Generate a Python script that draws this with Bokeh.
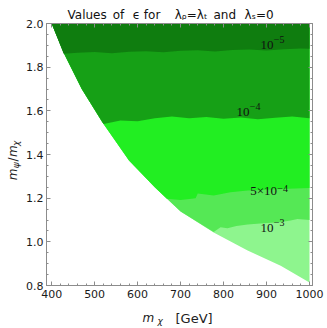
import numpy as np
from bokeh.plotting import figure
from bokeh.layouts import column, row
from bokeh.models import Range1d, FixedTicker, LinearAxis, Label
from bokeh.embed import file_html
from bokeh.resources import INLINE

# ---------------- data ----------------
# lower edge of the allowed region (white below)
bnd_x = [400, 429, 470, 518, 580, 640, 700, 777, 856, 933, 1000]
bnd_y = [2.0, 1.861, 1.70, 1.548, 1.372, 1.25, 1.139, 1.043, 0.960, 0.891, 0.814]

# contour eps = 1e-5
c1_x = [428, 460, 500, 540, 580, 620, 660, 700, 740, 780, 820, 860, 900, 940, 980, 1000]
c1_y = [1.862, 1.866, 1.869, 1.864, 1.871, 1.873, 1.868, 1.875, 1.877, 1.872, 1.879, 1.881, 1.876, 1.882, 1.885, 1.884]
# contour eps = 1e-4
c2_x = [521, 560, 600, 640, 680, 720, 760, 800, 840, 880, 920, 960, 1000]
c2_y = [1.540, 1.556, 1.552, 1.566, 1.574, 1.566, 1.572, 1.564, 1.570, 1.562, 1.568, 1.574, 1.566]
# contour eps = 5e-4
c3_x = [668, 700, 735, 740, 777, 816, 856, 902, 950, 1000]
c3_y = [1.197, 1.192, 1.200, 1.221, 1.212, 1.227, 1.235, 1.238, 1.243, 1.246]
# contour eps = 1e-3
c4_x = [777, 793, 809, 830, 856, 893, 930, 956, 972, 1000]
c4_y = [1.045, 1.067, 1.062, 1.072, 1.079, 1.085, 1.090, 1.098, 1.105, 1.100]

band_colors = ["#8ef58e", "#55e855", "#22ee22", "#16a016", "#0f7d0f"]

x_ticks = [400, 500, 600, 700, 800, 900, 1000]
x_labels = ["400", "500", "600", "700", "800", "900", "1000"]
y_ticks = [0.8, 1.0, 1.2, 1.4, 1.6, 1.8, 2.0]
y_labels = ["0.8", "1.0", "1.2", "1.4", "1.6", "1.8", "2.0"]

# contour labels: (main text, sup text, x, y, sup x)
clabels = [
    ("10", "\u22125", 886, 1.882, 917),
    ("10", "\u22124", 830, 1.578, 861),
    ("5\u00d710", "\u22124", 862, 1.199, 925),
    ("10", "\u22123", 886, 1.046, 917),
]

title_text = ("Values\u2002of\u2002\u2009\u03f5 for\u2003\u2009"
              "\u03bb\u1d68=\u03bb\u209c\u2002and\u2002\u2009\u03bb\u209b=0")

# ---------------- layout sizes (page pixels) ----------------
W, H = 327, 328
BOT_H = 24          # x label strip
LEFT_W = 22         # y label strip
MID_H = H - BOT_H
# main frame in page pixels: x 46..312, y 23..285

X0, X1 = 388, 1007
Y0, Y1 = 0.8, 2.0
p = figure(width=W - LEFT_W, height=MID_H, output_backend="svg", toolbar_location=None,
           x_range=Range1d(X0, X1), y_range=Range1d(Y0, Y1),
           min_border_left=46 - LEFT_W, min_border_right=W - 312,
           min_border_top=23, min_border_bottom=MID_H - 285)
p.background_fill_color = "white"
p.border_fill_color = "white"
p.outline_line_color = "#8c8c8c"
p.grid.visible = False

p.title.text = title_text
p.title.text_font = "DejaVu Sans"
p.title.text_font_size = "12px"
p.title.text_font_style = "normal"
p.title.text_color = "#111111"
p.title.align = "left"
p.title.offset = 21
p.title.standoff = 4

# bands
top_y = bnd_y[0]
right_x = bnd_x[-1]
p.patch(bnd_x + [right_x], bnd_y + [top_y], fill_color=band_colors[0], line_color=None)
for col, (cx, cy) in zip(band_colors[1:], [(c4_x, c4_y), (c3_x, c3_y), (c2_x, c2_y), (c1_x, c1_y)]):
    sx = [bx for bx in bnd_x if bx < cx[0]]
    sy = bnd_y[:len(sx)]
    p.patch(sx + cx + [right_x], sy + cy + [top_y], fill_color=col, line_color=None)

# axes
xt = FixedTicker(ticks=x_ticks, minor_ticks=list(np.arange(400, 1001, 20)))
yt = FixedTicker(ticks=y_ticks, minor_ticks=list(np.round(np.arange(0.8, 2.001, 0.05), 3)))

def style(ax, labels=True):
    ax.axis_line_color = "#8c8c8c"
    ax.major_tick_line_color = "#8c8c8c"
    ax.minor_tick_line_color = "#8c8c8c"
    ax.major_tick_in = 4
    ax.major_tick_out = 0
    ax.minor_tick_in = 2
    ax.minor_tick_out = 0
    if labels:
        ax.major_label_text_font = "DejaVu Sans"
        ax.major_label_text_font_size = "11px"
        ax.major_label_text_color = "#1a1a1a"
    else:
        ax.major_label_text_font_size = "0px"
        ax.major_label_standoff = 0

xa = p.xaxis[0]
xa.ticker = xt
xa.major_label_overrides = dict(zip(x_ticks, x_labels))
xa.major_label_standoff = 4
style(xa)
ya = p.yaxis[0]
ya.ticker = yt
ya.major_label_overrides = dict(zip(y_ticks, y_labels))
ya.major_label_standoff = 3
style(ya)

ta = LinearAxis(ticker=xt)
style(ta, labels=False)
ta.major_label_overrides = {t: "" for t in x_ticks}
p.add_layout(ta, "above")
ra = LinearAxis(ticker=yt)
style(ra, labels=False)
ra.major_label_overrides = {t: "" for t in y_ticks}
p.add_layout(ra, "right")

# contour labels
for main, sup, x, y, sx in clabels:
    p.add_layout(Label(x=x, y=y, text=main, text_font="Liberation Serif",
                       text_font_size="13px", text_color="#111111"))
    p.add_layout(Label(x=sx, y=y + 0.028, text=sup, text_font="Liberation Serif",
                       text_font_size="10px", text_color="#111111"))

# ---------------- text strips ----------------
def strip(w, h):
    f = figure(width=w, height=h, output_backend="svg", toolbar_location=None,
               x_range=Range1d(0, w), y_range=Range1d(0, h),
               x_axis_type=None, y_axis_type=None, min_border=0)
    f.outline_line_color = None
    f.grid.visible = False
    f.background_fill_color = "white"
    f.border_fill_color = "white"
    return f

def lab(f, text, x, y, size="12px", style_="normal", angle=0.0, color="#222222",
        font="DejaVu Sans"):
    f.add_layout(Label(x=x, y=y, text=text, text_font=font,
                       text_font_size=size, text_font_style=style_, angle=angle,
                       text_align="left", text_baseline="alphabetic",
                       text_color=color))

# y label strip (page x 0..LEFT_W, y 0..MID_H); y in strip = MID_H - page_y
lf = strip(LEFT_W, MID_H)
yb = 12
r = np.pi / 2
lab(lf, "m", yb, MID_H - 182, style_="italic", angle=r)
lab(lf, "\u03c8", yb + 3, MID_H - 168, size="9px", style_="italic", angle=r)
lab(lf, "/", yb, MID_H - 160, angle=r)
lab(lf, "m", yb, MID_H - 155, style_="italic", angle=r)
lab(lf, "\u03c7", yb + 3, MID_H - 142, size="9px", style_="italic", angle=r)

# x label strip (page y MID_H..H); y in strip = H - page_y
bf = strip(W, BOT_H)
lab(bf, "m", 142, H - 317.5, style_="italic")
lab(bf, "\u03c7", 157, H - 320.5, size="9px", style_="italic")
lab(bf, "[GeV]", 175, H - 317.5, size="13px")

layout = column(row(lf, p, spacing=0), bf, spacing=0)
open("out.html", "w").write(file_html(layout, INLINE))
